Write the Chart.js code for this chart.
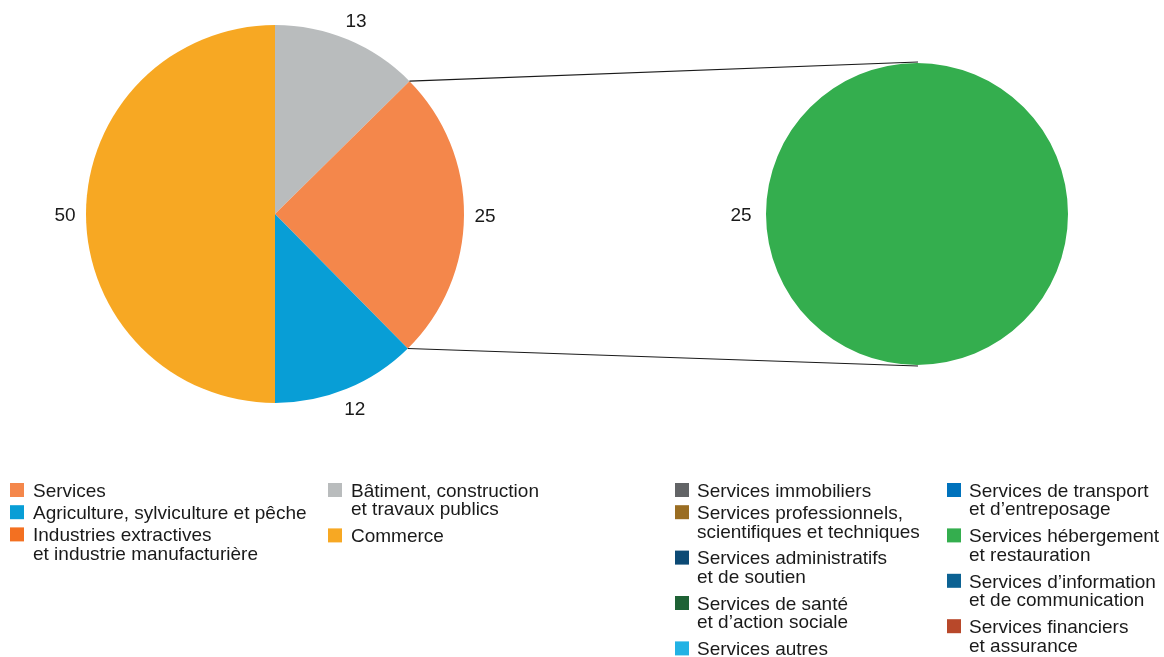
<!DOCTYPE html>
<html><head><meta charset="utf-8">
<script src="https://cdn.jsdelivr.net/npm/chart.js@4.4.0/dist/chart.umd.min.js"></script>
<style>
html,body{margin:0;padding:0;background:#fff;}
#wrap{position:relative;width:1164px;height:657px;}
#wrap canvas{position:absolute;left:0;top:0;}
</style></head>
<body>
<div id="wrap">
<canvas id="left" width="1164" height="657"></canvas>
<canvas id="right" width="1164" height="657"></canvas>
</div>
<script>
// ---- data ----
const pieLabels = ["Bâtiment, construction et travaux publics", "Services", "Agriculture, sylviculture et pêche", "Commerce"];
const pieValues = [12.6, 25, 12.4, 50];
const pieColors = ["#B9BCBD", "#F4874B", "#089ED6", "#F7A823"];
const explodedIndex = 1; // "Services"

const subLabels = ["Services hébergement et restauration"];
const subValues = [25];
const subColors = ["#34AE4E"];

const legendLeftCol1 = [
  {lines: ["Services"], color: "#F4874B"},
  {lines: ["Agriculture, sylviculture et pêche"], color: "#089ED6"},
  {lines: ["Industries extractives", "et industrie manufacturière"], color: "#F37021"}
];
const legendLeftCol2 = [
  {lines: ["Bâtiment, construction", "et travaux publics"], color: "#B9BCBD"},
  {lines: ["Commerce"], color: "#F7A823"}
];
const legendRightCol1 = [
  {lines: ["Services immobiliers"], color: "#626466"},
  {lines: ["Services professionnels,", "scientifiques et techniques"], color: "#9A6D22"},
  {lines: ["Services administratifs", "et de soutien"], color: "#0C4A75"},
  {lines: ["Services de santé", "et d’action sociale"], color: "#1E6235"},
  {lines: ["Services autres"], color: "#22B2E4"}
];
const legendRightCol2 = [
  {lines: ["Services de transport", "et d’entreposage"], color: "#0072BC"},
  {lines: ["Services hébergement", "et restauration"], color: "#34AE4E"},
  {lines: ["Services d’information", "et de communication"], color: "#0C6293"},
  {lines: ["Services financiers", "et assurance"], color: "#B8482A"}
];

// ---- rendering ----
const FONT = '19px "Liberation Sans", Arial, sans-serif';
const TEXT = '#1a1a1a';

function drawValueLabels(chart, offset) {
  const ctx = chart.ctx;
  const meta = chart.getDatasetMeta(0);
  const vals = chart.data.datasets[0].data;
  ctx.save();
  ctx.font = FONT;
  ctx.fillStyle = TEXT;
  ctx.textAlign = 'center';
  ctx.textBaseline = 'alphabetic';
  meta.data.forEach((arc, i) => {
    const p = arc.getProps(['x','y','startAngle','endAngle','outerRadius'], true);
    const mid = (p.startAngle + p.endAngle) / 2;
    const r = p.outerRadius + offset;
    const x = p.x + Math.cos(mid) * r;
    const y = p.y + Math.sin(mid) * r;
    ctx.fillText(String(Math.round(vals[i])), x, y + 6.8);
  });
  ctx.restore();
}

function drawLegendColumn(ctx, items, sqX, txtX, y0) {
  ctx.save();
  ctx.font = FONT;
  ctx.textAlign = 'left';
  ctx.textBaseline = 'alphabetic';
  let y = y0;
  items.forEach(it => {
    ctx.fillStyle = it.color;
    ctx.fillRect(sqX, y - 7, 14, 14);
    ctx.fillStyle = TEXT;
    it.lines.forEach((ln, k) => ctx.fillText(ln, txtX, y + 6.8 + k * 18.5));
    y += 22.2 + 23.2 * (it.lines.length - 1);
  });
  ctx.restore();
}

const leftChart = new Chart(document.getElementById('left'), {
  type: 'pie',
  data: { labels: pieLabels, datasets: [{ data: pieValues, backgroundColor: pieColors, borderWidth: 0 }] },
  options: {
    responsive: false, animation: false,
    layout: { padding: { left: 86, top: 25, right: 700, bottom: 254 } },
    plugins: { legend: { display: false }, tooltip: { enabled: false } }
  },
  plugins: [{ id: 'vals', afterDatasetsDraw(chart) { drawValueLabels(chart, 21); } }]
});

const rightChart = new Chart(document.getElementById('right'), {
  type: 'pie',
  data: { labels: subLabels, datasets: [{ data: subValues, backgroundColor: subColors, borderWidth: 0, rotation: 90 }] },
  options: {
    responsive: false, animation: false,
    layout: { padding: { left: 766, top: 63, right: 96, bottom: 292 } },
    plugins: { legend: { display: false }, tooltip: { enabled: false } }
  },
  plugins: [{ id: 'extras', afterDatasetsDraw(chart) {
    drawValueLabels(chart, 25);
    const ctx = chart.ctx;
    const a = leftChart.getDatasetMeta(0).data[explodedIndex].getProps(['x','y','startAngle','endAngle','outerRadius'], true);
    const b = chart.getDatasetMeta(0).data[0].getProps(['x','y','outerRadius'], true);
    const s = {x: a.x + Math.cos(a.startAngle) * a.outerRadius, y: a.y + Math.sin(a.startAngle) * a.outerRadius};
    const e = {x: a.x + Math.cos(a.endAngle) * a.outerRadius, y: a.y + Math.sin(a.endAngle) * a.outerRadius};
    ctx.save();
    ctx.strokeStyle = '#1a1a1a';
    ctx.lineWidth = 1.2;
    ctx.beginPath();
    ctx.moveTo(s.x, s.y); ctx.lineTo(b.x + 1, b.y - b.outerRadius - 1);
    ctx.moveTo(e.x, e.y); ctx.lineTo(b.x + 1, b.y + b.outerRadius + 1);
    ctx.stroke();
    ctx.restore();
    drawLegendColumn(ctx, legendLeftCol1, 10, 33, 490);
    drawLegendColumn(ctx, legendLeftCol2, 328, 351, 490);
    drawLegendColumn(ctx, legendRightCol1, 675, 697, 490);
    drawLegendColumn(ctx, legendRightCol2, 947, 969, 490);
  } }]
});
</script>
</body></html>
